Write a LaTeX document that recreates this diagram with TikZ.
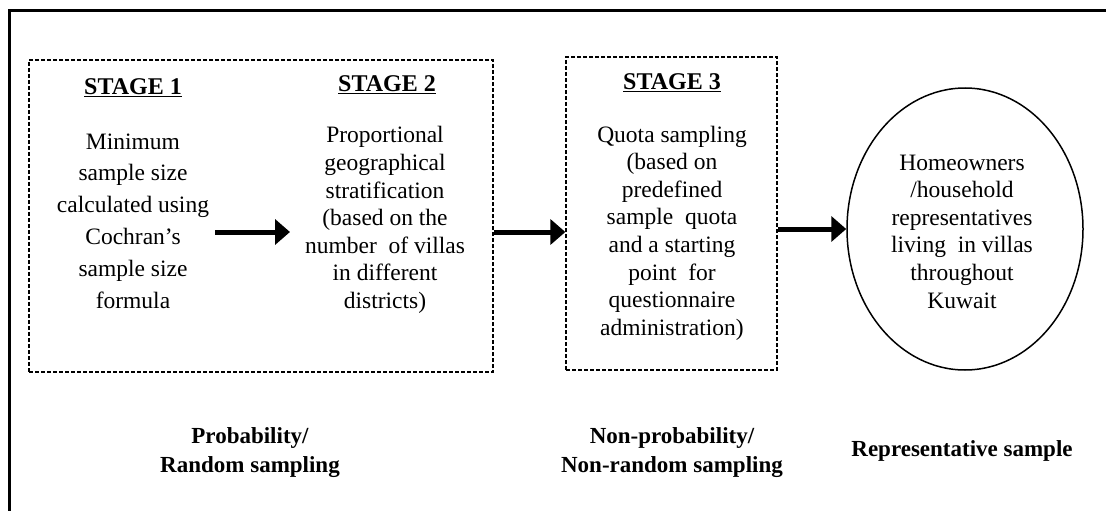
\documentclass[tikz,border=0pt]{standalone}
\usepackage{fontspec}
\setmainfont{Liberation Serif}
\usetikzlibrary{arrows.meta,shapes.geometric}
\begin{document}
\begin{tikzpicture}[x=1pt,y=-1pt,
  dbox/.style={draw,line width=1.3pt,dash pattern=on 4pt off 2pt,minimum width=#1,inner sep=0pt},
  body/.style={align=center,inner sep=0pt,font=\fontsize{23.5}{27.6}\selectfont},
  bodywide/.style={align=center,inner sep=0pt,font=\fontsize{23.5}{31.8}\selectfont},
  head/.style={inner sep=0pt,font=\fontsize{24}{28}\selectfont\bfseries},
  lab/.style={align=center,inner sep=0pt,font=\fontsize{23}{29}\selectfont\bfseries},
  bigarrow/.style={line width=5pt,-{Triangle[length=15pt,width=25pt]}}
]
\useasboundingbox (0,0) rectangle (1106,511);
\clip (0,0) rectangle (1106,511);
% outer frame (only top and left visible)
\draw[line width=3pt] (1130,11) -- (9,11) -- (9,540);
% dashed boxes
\node[dbox=464pt,minimum height=312pt] (box1) at (261,216) {};
\node[dbox=211pt,minimum height=313pt] (box3) at (671.5,213.5) {};
% ellipse
\node[draw,ellipse,line width=1.5pt,minimum width=236pt,minimum height=282pt,inner sep=0pt] (ell) at (965,229) {};
% headings
\node[head] (h1) at (133,88) {\underline{STAGE 1}};
\node[head] (h2) at (387,85) {\underline{STAGE 2}};
\node[head] (h3) at (672,83) {\underline{STAGE 3}};
% body texts
\node[bodywide] (t1) at (133,221) {Minimum\\sample size\\calculated using\\Cochran’s\\sample size\\formula};
\node[body] (t2) at (385,220) {Proportional\\geographical\\stratification\\(based on the\\number\ \ of villas\\in different\\districts)};
\node[body] (t3) at (672,233) {Quota sampling\\(based on\\predefined\\sample\ \ quota\\and a starting\\point\ \ for\\questionnaire\\administration)};
\node[body] (t4) at (962,231.5) {Homeowners\\/household\\representatives\\living\ \ in villas\\throughout\\Kuwait};
% bottom labels
\node[lab] (l1) at (250,452.5) {Probability/\\Random sampling};
\node[lab] (l2) at (672,452.5) {Non-probability/\\Non-random sampling};
\node[lab] (l3) at (962,451) {Representative sample};
% arrows
\coordinate (a1s) at (215,232);
\coordinate (a1e) at (290,232);
\draw[bigarrow] (a1s) -- (a1e);
\draw[bigarrow] (box1.east |- a1s) -- (box3.west |- a1s);
\draw[bigarrow] (box3.east |- ell.west) -- (ell.west);
\end{tikzpicture}
\end{document}
